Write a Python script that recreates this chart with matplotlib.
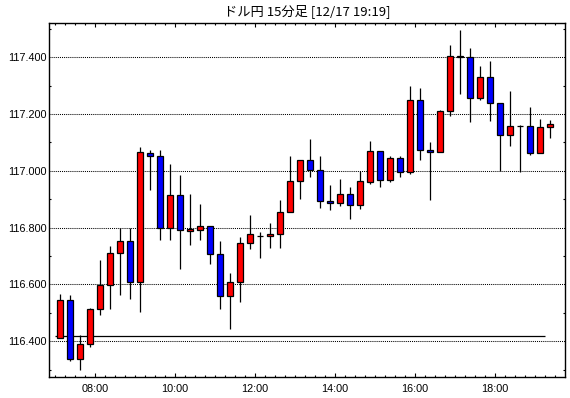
import matplotlib
matplotlib.use("Agg")
import matplotlib.pyplot as plt
from matplotlib.ticker import MultipleLocator, FixedLocator, FuncFormatter
import numpy as np
import pandas as pd

title = "ドル円 15分足 [12/17 19:19]"

bar_start = pd.date_range("2019-12-17 07:00", periods=50, freq="15min")

opens = [116.411, 116.544, 116.336, 116.389, 116.512, 116.597, 116.712, 116.754, 116.607, 117.063,
         117.053, 116.800, 116.916, 116.790, 116.793, 116.807, 116.708, 116.558, 116.607, 116.747,
         116.772, 116.772, 116.776, 116.856, 116.965, 117.039, 117.004, 116.895, 116.887, 116.919,
         116.881, 116.962, 117.070, 116.968, 117.046, 116.995, 117.250, 117.074, 117.066, 117.211,
         117.405, 117.401, 117.256, 117.331, 117.239, 117.127, 117.158, 117.158, 117.063, 117.153]
highs = [116.566, 116.563, 116.422, 116.517, 116.685, 116.737, 116.800, 116.800, 117.085, 117.075,
         117.075, 117.026, 116.984, 116.917, 116.882, 116.807, 116.752, 116.640, 116.766, 116.843,
         116.784, 116.815, 116.896, 117.054, 117.040, 117.113, 117.054, 116.949, 116.973, 116.942,
         117.000, 117.106, 117.070, 117.051, 117.054, 117.298, 117.293, 117.103, 117.215, 117.442,
         117.497, 117.434, 117.368, 117.388, 117.239, 117.282, 117.160, 117.226, 117.184, 117.180]
lows = [116.410, 116.329, 116.297, 116.381, 116.494, 116.515, 116.564, 116.550, 116.504, 116.931,
        116.758, 116.758, 116.653, 116.738, 116.756, 116.671, 116.515, 116.444, 116.538, 116.725,
        116.694, 116.729, 116.729, 116.856, 116.901, 116.978, 116.869, 116.862, 116.878, 116.830,
        116.865, 116.953, 116.943, 116.960, 116.978, 116.988, 117.038, 116.896, 117.066, 117.192,
        117.270, 117.171, 117.251, 117.175, 117.000, 117.089, 116.995, 117.055, 117.063, 117.115]
closes = [116.544, 116.336, 116.389, 116.512, 116.597, 116.712, 116.754, 116.607, 117.067, 117.053,
          116.800, 116.916, 116.791, 116.797, 116.807, 116.708, 116.558, 116.607, 116.747, 116.776,
          116.772, 116.776, 116.856, 116.965, 117.039, 117.004, 116.895, 116.887, 116.919, 116.881,
          116.963, 117.070, 116.968, 117.046, 116.995, 117.250, 117.073, 117.066, 117.211, 117.405,
          117.402, 117.256, 117.331, 117.239, 117.127, 117.158, 117.158, 117.063, 117.155, 117.165]

ref_level = 116.418
ref_start = "07:00"
ref_end = "19:15"

y_ticks = [116.4, 116.6, 116.8, 117.0, 117.2, 117.4]
x_tick_hours = [8, 10, 12, 14, 16, 18]
x_tick_labels = ["08:00", "10:00", "12:00", "14:00", "16:00", "18:00"]

UP = "#ff0000"
DOWN = "#0000ff"

def to_hours(ts):
    return ts.hour + ts.minute / 60.0

starts = np.array([to_hours(t) for t in bar_start])
centers = starts + 0.125
o = np.array(opens); h = np.array(highs); l = np.array(lows); c = np.array(closes)
colors = [UP if cc >= oo else DOWN for oo, cc in zip(o, c)]

fig = plt.figure(figsize=(5.7, 3.98), dpi=100)
fig.patch.set_facecolor("white")
ax = fig.add_axes([49.3 / 570, 21.3 / 398, (565 - 49.3) / 570, (376.7 - 22.7) / 398])

ax.set_xlim(6.8525, 19.745)
ax.set_ylim(116.275, 117.522)

ax.yaxis.set_major_locator(FixedLocator(y_ticks))
ax.yaxis.set_minor_locator(MultipleLocator(0.1))
ax.yaxis.set_major_formatter(FuncFormatter(lambda v, p: f"{v:.3f}"))
ax.xaxis.set_major_locator(FixedLocator(x_tick_hours))
ax.set_xticklabels(x_tick_labels)
ax.xaxis.set_minor_locator(MultipleLocator(0.25))

ax.grid(axis="y", which="major", linestyle=(0, (1, 1)), color="black", linewidth=0.75, zorder=1)
ax.set_axisbelow(True)

ax.tick_params(axis="both", which="both", direction="in", top=True, right=True, color="black", width=0.8)
ax.tick_params(axis="both", which="major", length=3.2)
ax.tick_params(axis="both", which="minor", length=1.6)
ax.tick_params(axis="x", which="major", pad=5)
ax.tick_params(axis="y", which="major", pad=2, length=0)
for lab in ax.get_xticklabels() + ax.get_yticklabels():
    lab.set_fontfamily("Liberation Sans")
    lab.set_fontsize(7.8)

for s in ax.spines.values():
    s.set_linewidth(1.0)
    s.set_color("black")

# reference line
ax.hlines(ref_level, to_hours(pd.Timestamp("2019-12-17 " + ref_start)),
          to_hours(pd.Timestamp("2019-12-17 " + ref_end)), color="black", linewidth=0.9, zorder=2)

# candles
ax.vlines(centers, l, h, color="black", linewidth=0.9, zorder=3)
bottoms = np.minimum(o, c)
heights = np.abs(c - o)
ax.bar(centers, heights, bottom=bottoms, width=0.145, color=colors, edgecolor="black",
       linewidth=0.9, zorder=4)

fig.text((49.3 + 565) / 2 / 570, 1 - 11.5 / 398, title, ha="center", va="center", fontsize=9.5,
         family=["Noto Sans CJK JP", "DejaVu Sans"])

fig.savefig("out.png", dpi=100, facecolor="white")
